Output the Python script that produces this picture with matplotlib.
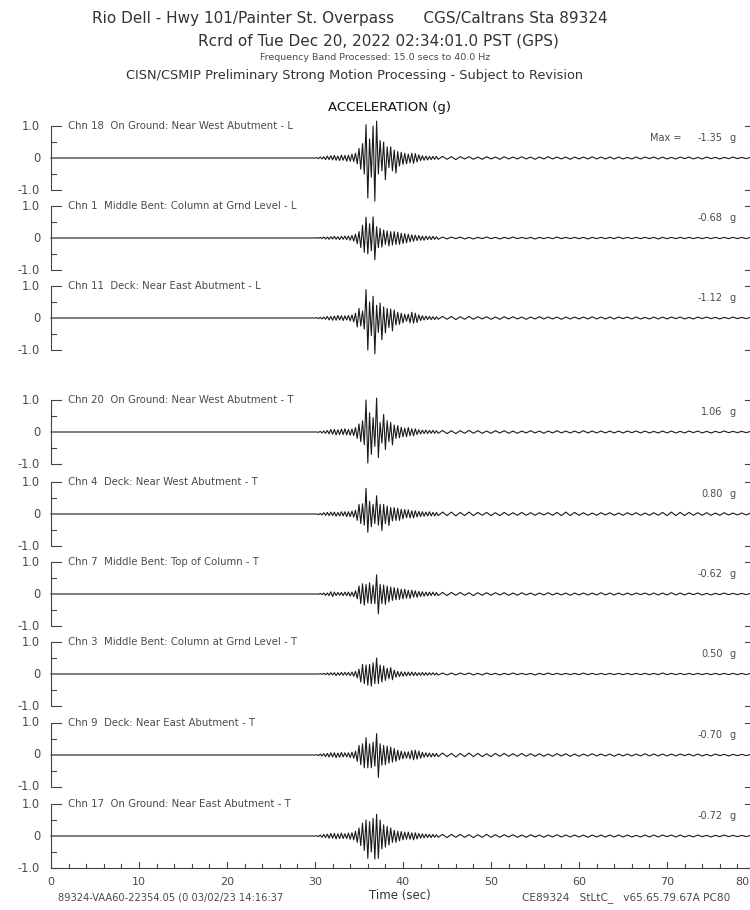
"""Strong-motion acceleration record, Rio Dell - Hwy 101/Painter St. Overpass."""

import numpy as np
import matplotlib
matplotlib.use("Agg")
import matplotlib.pyplot as plt

W, H = 750, 910

CHANNELS = [
    "Chn 18  On Ground: Near West Abutment - L",
    "Chn 1  Middle Bent: Column at Grnd Level - L",
    "Chn 11  Deck: Near East Abutment - L",
    "Chn 20  On Ground: Near West Abutment - T",
    "Chn 4  Deck: Near West Abutment - T",
    "Chn 7  Middle Bent: Top of Column - T",
    "Chn 3  Middle Bent: Column at Grnd Level - T",
    "Chn 9  Deck: Near East Abutment - T",
    "Chn 17  On Ground: Near East Abutment - T",
]
PEAKS = ["-1.35", "-0.68", "-1.12", "1.06", "0.80", "-0.62", "0.50", "-0.70", "-0.72"]

# strong-motion part: samples read every 0.2 s from 30.0 s to 44.0 s (g)
STRONG_T0, STRONG_DT = 30.0, 0.2
CH18 = [0.0, 0.01, -0.02, 0.03, -0.03, 0.04, -0.05, 0.06, -0.05, 0.07,
        -0.06, 0.08, -0.07, 0.06, -0.08, 0.09, -0.07, 0.08, -0.1, 0.09,
        -0.1, 0.12, -0.11, 0.15, -0.18, 0.3, -0.35, 0.45, -0.5, 1.04,
        -1.25, 0.6, -0.6, 1.0, -1.35, 1.15, -0.5, 0.55, -0.4, 0.5,
        -0.68, 0.35, -0.3, 0.35, -0.4, 0.25, -0.47, 0.2, -0.25, 0.18,
        -0.2, 0.15, -0.18, 0.12, -0.15, 0.15, -0.17, 0.14, -0.12, 0.1,
        -0.08, 0.07, -0.07, 0.06, -0.06, 0.05, -0.05, 0.05, -0.04, 0.05,
        -0.04]
CH1 = [0.0, 0.01, -0.01, 0.02, -0.02, 0.03, -0.03, 0.03, -0.04, 0.04,
       -0.03, 0.05, -0.04, 0.04, -0.05, 0.05, -0.04, 0.06, -0.05, 0.06,
       -0.07, 0.08, -0.1, 0.12, -0.18, 0.2, -0.3, 0.4, -0.45, 0.65,
       -0.5, 0.45, -0.4, 0.66, -0.68, 0.35, -0.3, 0.3, -0.28, 0.25,
       -0.2, 0.22, -0.25, 0.2, -0.22, 0.2, -0.2, 0.18, -0.2, 0.15,
       -0.17, 0.14, -0.15, 0.12, -0.12, 0.1, -0.1, 0.09, -0.08, 0.08,
       -0.07, 0.06, -0.07, 0.06, -0.05, 0.05, -0.05, 0.05, -0.04, 0.04,
       -0.04]
CH11 = [0.0, 0.01, -0.02, 0.02, -0.03, 0.03, -0.04, 0.05, -0.06, 0.05,
        -0.07, 0.06, -0.07, 0.08, -0.06, 0.07, -0.08, 0.07, -0.06, 0.08,
        -0.09, 0.1, -0.12, 0.15, -0.28, 0.3, -0.25, 0.22, -0.35, 0.89,
        -1.0, 0.5, -0.55, 0.68, -1.12, 0.4, -0.45, 0.47, -0.68, 0.35,
        -0.47, 0.3, -0.3, 0.28, -0.4, 0.25, -0.22, 0.18, -0.2, 0.15,
        -0.15, 0.12, -0.1, 0.12, -0.15, 0.18, -0.16, 0.15, -0.14, 0.1,
        -0.08, 0.07, -0.06, 0.06, -0.05, 0.05, -0.05, 0.04, -0.05, 0.04,
        -0.04]
CH20 = [0.0, 0.0, -0.01, 0.02, -0.03, 0.03, -0.04, 0.05, -0.06, 0.08,
        -0.07, 0.08, -0.09, 0.07, -0.08, 0.09, -0.08, 0.1, -0.09, 0.08,
        -0.1, 0.09, -0.11, 0.14, -0.2, 0.25, -0.3, 0.35, -0.4, 1.0,
        -0.97, 0.6, -0.7, 0.45, -0.45, 1.06, -0.8, 0.3, -0.35, 0.55,
        -0.55, 0.35, -0.3, 0.3, -0.4, 0.22, -0.2, 0.2, -0.18, 0.15,
        -0.15, 0.12, -0.15, 0.14, -0.12, 0.1, -0.12, 0.1, -0.08, 0.07,
        -0.06, 0.06, -0.05, 0.06, -0.05, 0.05, -0.04, 0.05, -0.04, 0.04,
        -0.04]
CH4 = [0.0, 0.0, -0.02, 0.02, -0.03, 0.04, -0.04, 0.05, -0.05, 0.06,
       -0.05, 0.06, -0.07, 0.05, -0.06, 0.07, -0.06, 0.07, -0.08, 0.07,
       -0.08, 0.09, -0.1, 0.12, -0.2, 0.3, -0.3, 0.32, -0.35, 0.8,
       -0.57, 0.4, -0.4, 0.3, -0.3, 0.57, -0.35, 0.3, -0.52, 0.3,
       -0.3, 0.25, -0.36, 0.2, -0.22, 0.2, -0.2, 0.18, -0.2, 0.15,
       -0.15, 0.14, -0.12, 0.13, -0.12, 0.1, -0.12, 0.1, -0.09, 0.08,
       -0.08, 0.07, -0.07, 0.06, -0.06, 0.07, -0.06, 0.05, -0.06, 0.05,
       -0.05]
CH7 = [0.0, 0.0, -0.01, 0.02, -0.02, 0.03, -0.04, 0.03, -0.05, 0.07,
       -0.08, 0.06, -0.05, 0.05, -0.04, 0.05, -0.05, 0.06, -0.05, 0.06,
       -0.07, 0.06, -0.08, 0.1, -0.15, 0.25, -0.3, 0.32, -0.35, 0.3,
       -0.28, 0.35, -0.3, 0.28, -0.3, 0.6, -0.62, 0.3, -0.3, 0.28,
       -0.32, 0.25, -0.25, 0.22, -0.2, 0.2, -0.18, 0.18, -0.17, 0.15,
       -0.15, 0.15, -0.13, 0.12, -0.14, 0.12, -0.1, 0.1, -0.1, 0.08,
       -0.08, 0.07, -0.07, 0.06, -0.06, 0.06, -0.05, 0.06, -0.05, 0.05,
       -0.05]
CH3 = [0.0, 0.0, 0.0, 0.01, -0.01, 0.02, -0.02, 0.03, -0.03, 0.04,
       -0.03, 0.04, -0.05, 0.04, -0.04, 0.05, -0.04, 0.05, -0.04, 0.05,
       -0.05, 0.06, -0.07, 0.08, -0.12, 0.15, -0.25, 0.3, -0.3, 0.28,
       -0.35, 0.3, -0.38, 0.35, -0.3, 0.5, -0.3, 0.28, -0.25, 0.25,
       -0.2, 0.18, -0.15, 0.2, -0.18, 0.12, -0.1, 0.08, -0.08, 0.07,
       -0.07, 0.06, -0.06, 0.06, -0.05, 0.06, -0.05, 0.05, -0.05, 0.04,
       -0.04, 0.05, -0.04, 0.04, -0.04, 0.04, -0.03, 0.04, -0.03, 0.03,
       -0.03]
CH9 = [0.0, 0.01, -0.02, 0.03, -0.03, 0.04, -0.05, 0.05, -0.06, 0.07,
       -0.06, 0.07, -0.08, 0.06, -0.07, 0.08, -0.06, 0.07, -0.06, 0.07,
       -0.08, 0.09, -0.1, 0.12, -0.2, 0.3, -0.3, 0.35, -0.4, 0.54,
       -0.4, 0.35, -0.4, 0.4, -0.35, 0.67, -0.7, 0.35, -0.32, 0.3,
       -0.3, 0.28, -0.25, 0.25, -0.22, 0.2, -0.2, 0.15, -0.15, 0.12,
       -0.12, 0.1, -0.1, 0.1, -0.12, 0.14, -0.15, 0.15, -0.13, 0.12,
       -0.1, 0.08, -0.07, 0.07, -0.06, 0.06, -0.06, 0.05, -0.05, 0.05,
       -0.05]
CH17 = [0.0, 0.01, -0.02, 0.03, -0.04, 0.05, -0.05, 0.06, -0.07, 0.08,
        -0.07, 0.08, -0.09, 0.07, -0.08, 0.09, -0.08, 0.07, -0.08, 0.09,
        -0.1, 0.1, -0.12, 0.15, -0.2, 0.25, -0.3, 0.4, -0.45, 0.5,
        -0.7, 0.45, -0.5, 0.55, -0.72, 0.68, -0.7, 0.5, -0.4, 0.35,
        -0.35, 0.3, -0.28, 0.25, -0.2, 0.18, -0.2, 0.15, -0.15, 0.14,
        -0.12, 0.12, -0.1, 0.12, -0.1, 0.1, -0.12, 0.1, -0.09, 0.08,
        -0.07, 0.07, -0.06, 0.06, -0.05, 0.05, -0.05, 0.05, -0.04, 0.04,
        -0.04]

# coda: samples read every 0.5 s from 44.5 s to 80 s (g)
CODA_T0, CODA_DT = 44.5, 0.5
CODA18 = [0.05, -0.04, 0.04, -0.05, 0.04, -0.03, 0.04, -0.04, 0.03, -0.04,
          0.04, -0.03, 0.03, -0.04, 0.04, -0.03, 0.03, -0.03, 0.04, -0.03,
          0.03, -0.04, 0.03, -0.03, 0.04, -0.03, 0.03, -0.03, 0.03, -0.04,
          0.03, -0.03, 0.03, -0.03, 0.04, -0.03, 0.03, -0.03, 0.03, -0.03,
          0.03, -0.03, 0.02, -0.03, 0.03, -0.03, 0.03, -0.02, 0.03, -0.03,
          0.03, -0.03, 0.02, -0.03, 0.03, -0.02, 0.03, -0.03, 0.02, -0.03,
          0.03, -0.02, 0.02, -0.03, 0.02, -0.02, 0.03, -0.02, 0.02, -0.02,
          0.02, -0.02]
CODA1 = [0.03, -0.03, 0.03, -0.02, 0.03, -0.03, 0.02, -0.03, 0.02, -0.02,
         0.03, -0.02, 0.02, -0.03, 0.02, -0.02, 0.03, -0.02, 0.02, -0.02,
         0.02, -0.03, 0.02, -0.02, 0.02, -0.02, 0.03, -0.02, 0.02, -0.02,
         0.02, -0.02, 0.02, -0.03, 0.02, -0.02, 0.02, -0.02, 0.02, -0.02,
         0.03, -0.02, 0.02, -0.02, 0.02, -0.02, 0.02, -0.02, 0.02, -0.03,
         0.02, -0.02, 0.02, -0.02, 0.02, -0.02, 0.02, -0.02, 0.02, -0.02,
         0.02, -0.02, 0.02, -0.02, 0.02, -0.02, 0.02, -0.02, 0.02, -0.02,
         0.02, -0.02]
CODA11 = [0.05, -0.04, 0.05, -0.05, 0.04, -0.04, 0.05, -0.04, 0.04, -0.03,
          0.04, -0.04, 0.03, -0.04, 0.04, -0.03, 0.04, -0.03, 0.03, -0.04,
          0.03, -0.03, 0.04, -0.03, 0.03, -0.03, 0.03, -0.04, 0.03, -0.03,
          0.03, -0.03, 0.03, -0.03, 0.04, -0.03, 0.03, -0.03, 0.03, -0.03,
          0.03, -0.02, 0.03, -0.03, 0.03, -0.03, 0.02, -0.03, 0.03, -0.03,
          0.03, -0.03, 0.03, -0.02, 0.03, -0.03, 0.02, -0.03, 0.03, -0.02,
          0.03, -0.02, 0.02, -0.03, 0.02, -0.02, 0.03, -0.02, 0.02, -0.02,
          0.02, -0.02]
CODA20 = [0.05, -0.05, 0.04, -0.05, 0.04, -0.04, 0.05, -0.04, 0.04, -0.04,
          0.03, -0.04, 0.04, -0.03, 0.04, -0.04, 0.03, -0.04, 0.03, -0.03,
          0.04, -0.03, 0.03, -0.04, 0.03, -0.03, 0.04, -0.03, 0.03, -0.03,
          0.03, -0.03, 0.04, -0.03, 0.03, -0.03, 0.03, -0.03, 0.03, -0.03,
          0.03, -0.03, 0.03, -0.02, 0.03, -0.03, 0.03, -0.03, 0.02, -0.03,
          0.03, -0.03, 0.03, -0.03, 0.02, -0.03, 0.03, -0.02, 0.03, -0.03,
          0.02, -0.03, 0.02, -0.02, 0.03, -0.02, 0.02, -0.02, 0.02, -0.02,
          0.02, -0.02]
CODA4 = [0.06, -0.05, 0.06, -0.06, 0.05, -0.05, 0.06, -0.05, 0.05, -0.04,
         0.05, -0.05, 0.04, -0.05, 0.05, -0.04, 0.04, -0.04, 0.05, -0.04,
         0.04, -0.04, 0.04, -0.03, 0.04, -0.04, 0.05, -0.05, 0.06, -0.05,
         0.05, -0.04, 0.04, -0.04, 0.03, -0.04, 0.04, -0.03, 0.04, -0.04,
         0.03, -0.04, 0.04, -0.03, 0.04, -0.04, 0.03, -0.04, 0.04, -0.04,
         0.05, -0.05, 0.06, -0.05, 0.05, -0.05, 0.05, -0.04, 0.04, -0.04,
         0.04, -0.04, 0.03, -0.04, 0.04, -0.03, 0.03, -0.03, 0.03, -0.03,
         0.03, -0.03]
CODA7 = [0.05, -0.05, 0.05, -0.04, 0.05, -0.04, 0.04, -0.05, 0.04, -0.04,
         0.04, -0.04, 0.04, -0.03, 0.04, -0.04, 0.03, -0.04, 0.04, -0.03,
         0.03, -0.04, 0.03, -0.03, 0.04, -0.03, 0.03, -0.03, 0.03, -0.04,
         0.03, -0.03, 0.03, -0.03, 0.03, -0.03, 0.04, -0.03, 0.03, -0.03,
         0.03, -0.03, 0.03, -0.03, 0.03, -0.02, 0.03, -0.03, 0.03, -0.03,
         0.03, -0.03, 0.04, -0.03, 0.03, -0.03, 0.03, -0.02, 0.03, -0.03,
         0.02, -0.03, 0.02, -0.02, 0.03, -0.02, 0.02, -0.02, 0.02, -0.02,
         0.02, -0.02]
CODA3 = [0.03, -0.03, 0.03, -0.03, 0.03, -0.02, 0.03, -0.03, 0.02, -0.03,
         0.03, -0.02, 0.02, -0.03, 0.02, -0.02, 0.03, -0.02, 0.02, -0.02,
         0.02, -0.03, 0.02, -0.02, 0.03, -0.02, 0.02, -0.02, 0.02, -0.02,
         0.02, -0.02, 0.03, -0.02, 0.02, -0.02, 0.02, -0.02, 0.02, -0.02,
         0.02, -0.02, 0.02, -0.02, 0.02, -0.02, 0.02, -0.02, 0.02, -0.02,
         0.03, -0.02, 0.02, -0.02, 0.02, -0.02, 0.02, -0.02, 0.02, -0.02,
         0.02, -0.02, 0.02, -0.02, 0.02, -0.02, 0.02, -0.02, 0.02, -0.02,
         0.02, -0.02]
CODA9 = [0.06, -0.05, 0.05, -0.06, 0.05, -0.05, 0.06, -0.05, 0.05, -0.05,
         0.04, -0.05, 0.05, -0.04, 0.05, -0.04, 0.04, -0.04, 0.05, -0.04,
         0.04, -0.04, 0.04, -0.04, 0.03, -0.04, 0.04, -0.03, 0.04, -0.04,
         0.03, -0.04, 0.03, -0.03, 0.04, -0.03, 0.03, -0.03, 0.03, -0.04,
         0.03, -0.03, 0.03, -0.03, 0.03, -0.03, 0.04, -0.03, 0.03, -0.03,
         0.03, -0.03, 0.03, -0.03, 0.03, -0.02, 0.03, -0.03, 0.03, -0.03,
         0.02, -0.03, 0.03, -0.02, 0.02, -0.03, 0.02, -0.02, 0.02, -0.02,
         0.02, -0.02]
CODA17 = [0.05, -0.05, 0.05, -0.04, 0.05, -0.04, 0.04, -0.05, 0.04, -0.04,
          0.05, -0.04, 0.04, -0.04, 0.04, -0.03, 0.04, -0.04, 0.03, -0.04,
          0.04, -0.03, 0.03, -0.04, 0.03, -0.03, 0.04, -0.03, 0.03, -0.03,
          0.03, -0.03, 0.03, -0.04, 0.03, -0.03, 0.03, -0.03, 0.03, -0.03,
          0.03, -0.03, 0.03, -0.03, 0.02, -0.03, 0.03, -0.03, 0.03, -0.03,
          0.03, -0.02, 0.03, -0.03, 0.03, -0.03, 0.02, -0.03, 0.03, -0.02,
          0.02, -0.03, 0.02, -0.02, 0.03, -0.02, 0.02, -0.02, 0.02, -0.02,
          0.02, -0.02]

STRONG = [CH18, CH1, CH11, CH20, CH4, CH7, CH3, CH9, CH17]
CODA = [CODA18, CODA1, CODA11, CODA20, CODA4, CODA7, CODA3, CODA9, CODA17]

# layout (pixels)
ZERO_Y = [158, 238, 318, 432, 514, 594, 674, 755, 836]
HALF = 32          # px for 1.0 g
X0, X80 = 51, 755  # px of 0 s and 80 s
TXT = "#4a4a4a"
LINE = "#444444"


def px(x, y):
    return x / W, 1 - y / H


def trace_xy(strong, coda):
    ts = STRONG_T0 + STRONG_DT * np.arange(len(strong))
    tc = CODA_T0 + CODA_DT * np.arange(len(coda))
    t = np.concatenate([[0.0], ts, tc])
    v = np.concatenate([[0.0], strong, coda])
    return t, v


def bracket(ax, x, sign):
    ax.plot([x + sign * 1.15, x, x, x + sign * 1.15], [1, 1, -1, -1],
            color=LINE, lw=0.8, clip_on=False)
    for yy in (0.5, -0.5):
        ax.plot([x, x + sign * 0.6], [yy, yy], color=LINE, lw=0.8, clip_on=False)


fig = plt.figure(figsize=(W / 100, H / 100), dpi=100)
fig.patch.set_facecolor("white")

fig.text(*px(350, 18), "Rio Dell - Hwy 101/Painter St. Overpass      CGS/Caltrans Sta 89324",
         ha="center", va="center", fontsize=11, color="#333")
fig.text(*px(378, 41), "Rcrd of Tue Dec 20, 2022 02:34:01.0 PST (GPS)",
         ha="center", va="center", fontsize=11, color="#333")
fig.text(*px(375, 58), "Frequency Band Processed: 15.0 secs to 40.0 Hz",
         ha="center", va="center", fontsize=6.8, color=TXT)
fig.text(*px(355, 75), "CISN/CSMIP Preliminary Strong Motion Processing - Subject to Revision",
         ha="center", va="center", fontsize=9.3, color="#333")
fig.text(*px(390, 108), "ACCELERATION (g)", ha="center", va="center",
         fontsize=9.5, color="#111")

for i, (name, peak, y0) in enumerate(zip(CHANNELS, PEAKS, ZERO_Y)):
    ax = fig.add_axes([X0 / W, (H - y0 - HALF) / H, (X80 - X0) / W, 2 * HALF / H])
    ax.set_xlim(0, 80)
    ax.set_ylim(-1, 1)
    ax.axis("off")
    t, v = trace_xy(STRONG[i], CODA[i])
    ax.plot(t, v, color="#1a1a1a", lw=0.8, clip_on=False)
    bracket(ax, 0, 1)
    bracket(ax, 80, -1)
    for yy, lab in ((1, "1.0"), (0, "0"), (-1, "-1.0")):
        ax.text(-1.25, yy, lab, ha="right", va="center", fontsize=8.3, color=TXT)
    ax.text(1.9, 1, name, ha="left", va="center", fontsize=7.3, color=TXT)
    ax.text(76.3, 0.63, peak, ha="right", va="center", fontsize=7, color=TXT)
    ax.text(77.5, 0.63, "g", ha="center", va="center", fontsize=7, color=TXT)
    if i == 0:
        ax.text(71.7, 0.63, "Max =", ha="right", va="center", fontsize=7, color=TXT)
    if i == len(CHANNELS) - 1:
        ax.plot([0, 80], [-1, -1], color=LINE, lw=0.8, clip_on=False)
        for s in range(0, 81, 2):
            h = 0.2 if s % 10 == 0 else 0.13
            ax.plot([s, s], [-1, -1 + h], color=LINE, lw=0.8, clip_on=False)
        for s in range(0, 80, 10):
            ax.text(s, -1.45, str(s), ha="center", va="center", fontsize=8, color=TXT)
        ax.text(79.4, -1.45, "80", ha="right", va="center", fontsize=8, color=TXT)

fig.text(*px(400, 896), "Time (sec)", ha="center", va="center", fontsize=8.5, color="#333")
fig.text(*px(58, 898), "89324-VAA60-22354.05 (0 03/02/23 14:16:37",
         ha="left", va="center", fontsize=7.1, color=TXT)
fig.text(*px(730, 898), "CE89324   StLtC_   v65.65.79.67A PC80",
         ha="right", va="center", fontsize=7.6, color=TXT)

fig.savefig("out.png", dpi=100, facecolor="white")
